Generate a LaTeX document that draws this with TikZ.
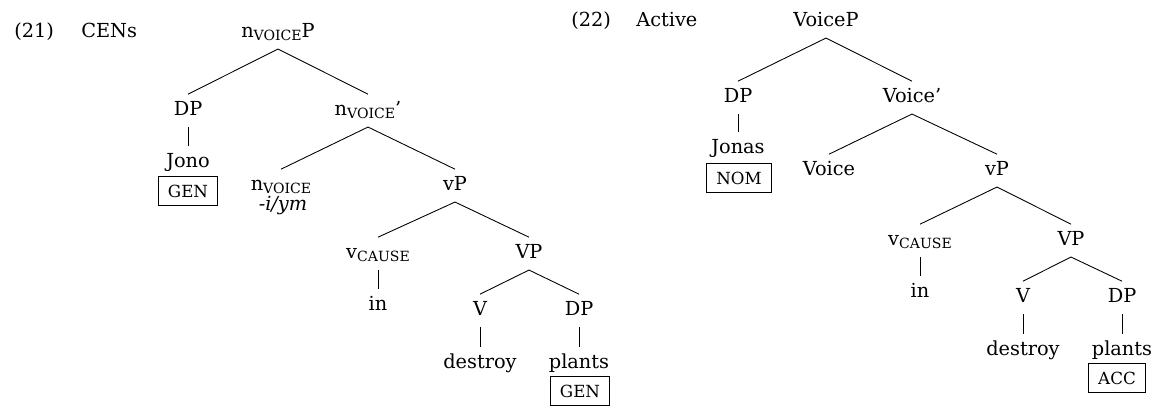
\documentclass[tikz,border=0pt]{standalone}
\usepackage{fontspec}
\setmainfont{DejaVu Serif}
\newcommand\smcaps[1]{{\fontsize{8}{10}\selectfont #1}}
\newcommand\lowsc[1]{\raisebox{-2.2pt}{\smcaps{#1}}}
\tikzset{
  cat/.style={anchor=base, inner xsep=1pt, inner ysep=3.6pt, text height=8pt, text depth=3pt},
  casebox/.style={draw, line width=0.5pt, inner xsep=5.5pt, inner ysep=0pt, minimum height=16.5pt, font=\fontsize{9.5}{11}\selectfont},
}
\begin{document}
\begin{tikzpicture}[x=0.02cm, y=-0.02cm, font=\fontsize{11}{13}\selectfont, line width=0.5pt]
\useasboundingbox (0,0) rectangle (1157,407);

% (21) CENs
\node[anchor=base west] (ex1) at (8,37) {(21)};
\node[anchor=base west] (lab1) at (75,37) {CENs};
\node[cat] (root1) at (278,37) {n\lowsc{VOICE}P};
\node[cat] (dp1) at (188,115) {DP};
\node[cat] (nbar) at (368,115) {n\lowsc{VOICE}’};
\node[cat] (jono) at (188,167) {Jono};
\node[casebox] (gen1) at (188,191) {GEN};
\node[cat] (nhead) at (281,190) {n\lowsc{VOICE}};
\node[anchor=base] (affix) at (283,210) {\textit{-i/ym}};
\node[cat] (vp1) at (455,190) {vP};
\node[cat] (vcause1) at (378,258) {v\lowsc{CAUSE}};
\node[cat] (bigvp1) at (529,258) {VP};
\node[cat] (in1) at (378,310) {in};
\node[cat] (v1) at (480,315) {V};
\node[cat] (obj1) at (579,315) {DP};
\node[cat] (destroy1) at (480,368) {destroy};
\node[cat] (plants1) at (579,368) {plants};
\node[casebox] (gen2) at (580,391) {GEN};

\draw (root1.south) -- (dp1.north) (root1.south) -- (nbar.north);
\draw (dp1.south) -- (jono.north);
\draw (nbar.south) -- (nhead.north) (nbar.south) -- (vp1.north);
\draw (vp1.south) -- (vcause1.north) (vp1.south) -- (bigvp1.north);
\draw (vcause1.south) -- (in1.north);
\draw (bigvp1.south) -- (v1.north) (bigvp1.south) -- (obj1.north);
\draw (v1.south) -- (destroy1.north);
\draw (obj1.south) -- (plants1.north);

% (22) Active
\node[anchor=base west] (ex2) at (565,26) {(22)};
\node[anchor=base west] (lab2) at (630,26) {Active};
\node[cat] (root2) at (826,26) {VoiceP};
\node[cat] (dp2) at (738,102) {DP};
\node[cat] (vbar) at (912,102) {Voice’};
\node[cat] (jonas) at (738,153) {Jonas};
\node[casebox] (nom) at (739,178) {NOM};
\node[cat] (voice) at (829,175) {Voice};
\node[cat] (vp2) at (997,175) {vP};
\node[cat] (vcause2) at (920,245) {v\lowsc{CAUSE}};
\node[cat] (bigvp2) at (1071,245) {VP};
\node[cat] (in2) at (920,297) {in};
\node[cat] (v2) at (1023,302) {V};
\node[cat] (obj2) at (1122,302) {DP};
\node[cat] (destroy2) at (1023,355) {destroy};
\node[cat] (plants2) at (1122,355) {plants};
\node[casebox] (acc) at (1117,378) {ACC};

\draw (root2.south) -- (dp2.north) (root2.south) -- (vbar.north);
\draw (dp2.south) -- (jonas.north);
\draw (vbar.south) -- (voice.north) (vbar.south) -- (vp2.north);
\draw (vp2.south) -- (vcause2.north) (vp2.south) -- (bigvp2.north);
\draw (vcause2.south) -- (in2.north);
\draw (bigvp2.south) -- (v2.north) (bigvp2.south) -- (obj2.north);
\draw (v2.south) -- (destroy2.north);
\draw (obj2.south) -- (plants2.north);
\end{tikzpicture}
\end{document}
